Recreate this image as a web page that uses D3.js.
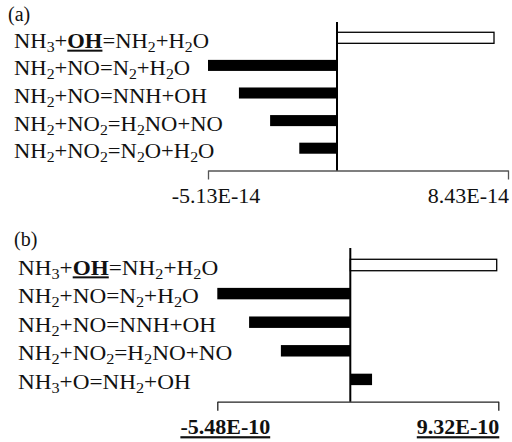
<!DOCTYPE html>
<html>
<head>
<meta charset="utf-8">
<script src="https://cdn.jsdelivr.net/npm/d3@7"></script>
<style>
  body { margin: 0; background: #fff; }
</style>
</head>
<body>
<div id="chart"></div>
<script>
// {n} = subscript, [..] = bold + underlined
var a_categories = ["NH{3}+[OH]=NH{2}+H{2}O", "NH{2}+NO=N{2}+H{2}O", "NH{2}+NO=NNH+OH",
    "NH{2}+NO{2}=H{2}NO+NO", "NH{2}+NO{2}=N{2}O+H{2}O"];
var a_values = [7.74e-14, -5.13e-14, -3.90e-14, -2.66e-14, -1.50e-14];
var a_ticks = [-5.13e-14, 8.43e-14];
var a_tick_labels = ["-5.13E-14", "8.43E-14"];

var b_categories = ["NH{3}+[OH]=NH{2}+H{2}O", "NH{2}+NO=N{2}+H{2}O", "NH{2}+NO=NNH+OH",
    "NH{2}+NO{2}=H{2}NO+NO", "NH{3}+O=NH{2}+OH"];
var b_values = [9.22e-10, -5.48e-10, -4.17e-10, -2.86e-10, 1.37e-10];
var b_ticks = [-5.48e-10, 9.32e-10];
var b_tick_labels = ["-5.48E-10", "9.32E-10"];

var svgWidth = 512;
var svgHeight = 442;

var svg = d3.select("#chart").append("svg")
    .attr("width", svgWidth)
    .attr("height", svgHeight)
    .attr("font-family", "Liberation Serif");

var panels = [
    { tag: "(a)", tagX: 8, tagY: 21, cats: a_categories, vals: a_values, ticks: a_ticks, tickLabels: a_tick_labels,
      x0: 208, xz: 337, x1: 508, bandTop: 24, bandBottom: 162, lineTop: 22, axisY: 170.5,
      labelX: 14, stretch: 1.13, textDy: 10, boldTicks: false, axisColor: "#555" },
    { tag: "(b)", tagX: 14, tagY: 246, cats: b_categories, vals: b_values, ticks: b_ticks, tickLabels: b_tick_labels,
      x0: 217.3, xz: 350.3, x1: 498.3, bandTop: 250.7, bandBottom: 393.7, lineTop: 248, axisY: 401.7,
      labelX: 18, stretch: 1.16, textDy: 9.5, boldTicks: true, axisColor: "#222" }
];

function addLabel(textSel, str) {
    var i = 0, bold = false;
    var subOn = false;
    var buf = "";
    function flush() {
        if (!buf) return;
        var t = textSel.append("tspan").text(buf);
        if (subOn) { t.attr("dy", -4); subOn = false; }
        if (bold) t.attr("font-weight", "bold").attr("text-decoration", "underline");
        buf = "";
    }
    while (i < str.length) {
        var c = str[i];
        if (c == "{") {
            flush();
            var j = str.indexOf("}", i);
            textSel.append("tspan").attr("dy", 4).attr("font-size", "14px").text(str.slice(i + 1, j));
            subOn = true;
            i = j + 1;
            continue;
        }
        if (c == "[" || c == "]") {
            flush();
            bold = (c == "[");
            i++;
            continue;
        }
        buf += c;
        i++;
    }
    flush();
}

panels.forEach(function (p) {
    var g = svg.append("g");

    var x = d3.scaleLinear()
        .domain([p.ticks[0], 0, p.ticks[1]])
        .range([p.x0, p.xz, p.x1]);

    var y = d3.scaleBand()
        .domain(p.cats)
        .range([p.bandTop, p.bandBottom])
        .paddingInner(0.6)
        .paddingOuter(0.3);

    g.append("text")
        .attr("x", p.tagX)
        .attr("y", p.tagY)
        .attr("font-size", "20px")
        .attr("fill", "#111")
        .text(p.tag);

    // category labels, a little wider than normal like the source
    p.cats.forEach(function (c) {
        var yy = y(c) + y.bandwidth() / 2 + p.textDy;
        var t = g.append("text")
            .attr("transform", `translate(${p.labelX}, ${yy}) scale(${p.stretch}, 1)`)
            .attr("font-size", "20px")
            .attr("fill", "#111");
        addLabel(t, c);
    });

    // bars
    g.selectAll("rect.bar")
        .data(p.vals)
        .enter()
        .append("rect")
        .attr("class", "bar")
        .attr("x", d => Math.min(x(d), x(0)))
        .attr("width", d => Math.abs(x(d) - x(0)))
        .attr("y", (d, i) => y(p.cats[i]))
        .attr("height", y.bandwidth())
        .attr("fill", (d, i) => i == 0 ? "#fff" : "#000")
        .attr("stroke", "#000")
        .attr("stroke-width", (d, i) => i == 0 ? 1.3 : 0);

    // axis
    var axis = d3.axisBottom(x)
        .tickValues(p.ticks)
        .tickSize(9)
        .tickSizeOuter(0)
        .tickFormat("");

    var ax = g.append("g")
        .attr("transform", `translate(0, ${p.axisY})`)
        .call(axis);
    ax.selectAll("path, line").attr("stroke", p.axisColor).attr("stroke-width", 1.3);

    // zero line
    g.append("line")
        .attr("x1", x(0)).attr("x2", x(0))
        .attr("y1", p.lineTop).attr("y2", p.axisY)
        .attr("stroke", "#000")
        .attr("stroke-width", 2);

    // end labels
    g.append("text")
        .attr("x", x(p.ticks[0]) + 8)
        .attr("y", p.axisY + 32.5)
        .attr("text-anchor", "middle")
        .attr("font-size", "22px")
        .attr("fill", "#111")
        .attr("font-weight", p.boldTicks ? "bold" : "normal")
        .attr("text-decoration", p.boldTicks ? "underline" : "none")
        .text(p.tickLabels[0]);

    g.append("text")
        .attr("x", x(p.ticks[1]) + 1)
        .attr("y", p.axisY + 32.5)
        .attr("text-anchor", "end")
        .attr("font-size", "22px")
        .attr("fill", "#111")
        .attr("font-weight", p.boldTicks ? "bold" : "normal")
        .attr("text-decoration", p.boldTicks ? "underline" : "none")
        .text(p.tickLabels[1]);
});
</script>
</body>
</html>
